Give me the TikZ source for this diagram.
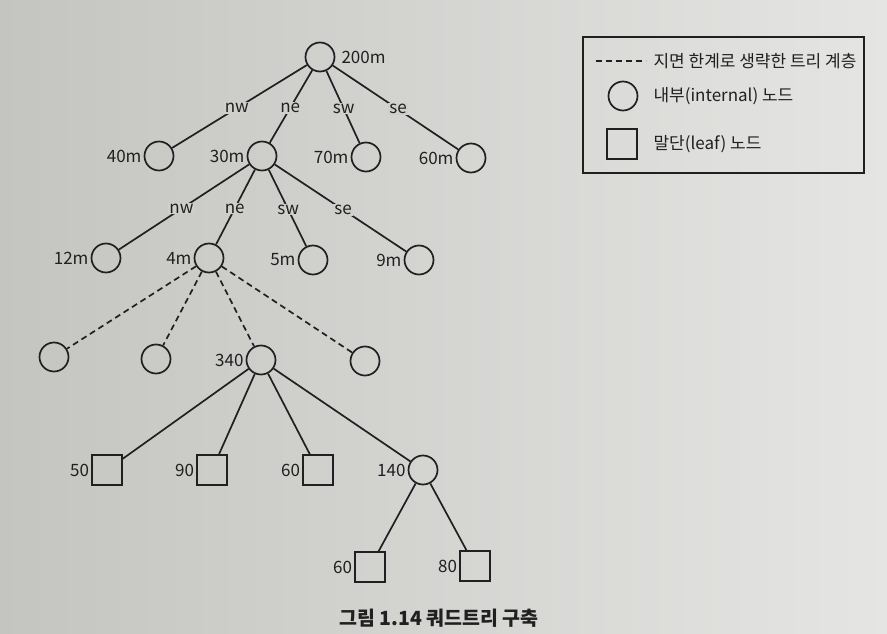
\documentclass[tikz,border=0pt]{standalone}
\usepackage{fontspec}
\setmainfont{Noto Sans CJK KR}
\usetikzlibrary{positioning}
\definecolor{paper}{RGB}{207,207,204}
\definecolor{paperdark}{RGB}{196,196,193}
\definecolor{paperlight}{RGB}{229,229,227}
\definecolor{ink}{RGB}{32,32,32}
\tikzset{
	x=1pt, y=-1pt, % one unit per pixel of the scan, y running down
	every node/.style={font=\fontsize{17}{20}\selectfont, text=ink}, % label font
	every label/.style={inner sep=2pt}, % labels sit close to their node
	inner/.style={circle, draw=ink, line width=1.7pt, minimum size=29pt, inner sep=0pt}, % internal node
	leaf/.style={rectangle, draw=ink, line width=1.7pt, minimum size=30pt, inner sep=0pt}, % leaf node
	branch/.style={draw=ink, line width=1.7pt}, % tree edge
	omitted/.style={branch, dash pattern=on 6pt off 4pt}, % omitted levels
	quad/.style={fill=paper, inner sep=1pt, pos=0.52}, % quadrant name on an edge
}

\begin{document}
\begin{tikzpicture}
			\fill[left color=paperdark, right color=paperlight] (0,0) rectangle (887,634);
			\useasboundingbox (0,0) rectangle (887,634);

			\node[inner, label={[label distance=4pt]right:200m}] (1) at (320,57) {};
			\node[inner, label=left:40m] (2) at (159,156) {};
			\node[inner, label=left:30m] (3) at (262,156) {};
			\node[inner, label=left:70m] (4) at (366,157) {};
			\node[inner, label=left:60m] (5) at (471,158) {};
			\node[inner, label=left:12m] (6) at (106,258) {};
			\node[inner, label=left:4m] (7) at (209,258) {};
			\node[inner, label=left:5m] (8) at (313,260) {};
			\node[inner, label=left:9m] (9) at (419,260) {};
			\node[inner] (10) at (54,357) {};
			\node[inner] (11) at (156,359) {};
			\node[inner, label=left:340] (12) at (261,360) {};
			\node[inner] (13) at (365,361) {};
			\node[leaf, label=left:50] (14) at (107,470) {};
			\node[leaf, label=left:90] (15) at (212,470) {};
			\node[leaf, label=left:60] (16) at (318,470) {};
			\node[inner, label=left:140] (17) at (423,470) {};
			\node[leaf, label=left:60] (18) at (370,567) {};
			\node[leaf, label=left:80] (19) at (475,566) {};

			\draw[branch] (1) edge node[quad]{nw} (2)
				  (1) edge node[quad]{ne} (3)
				  (1) edge node[quad]{sw} (4)
				  (1) edge node[quad]{se} (5)
				  (3) edge node[quad]{nw} (6)
				  (3) edge node[quad]{ne} (7)
				  (3) edge node[quad]{sw} (8)
				  (3) edge node[quad]{se} (9)
				  (12) edge (14)
				  (12) edge (15)
				  (12) edge (16)
				  (12) edge (17)
				  (17) edge (18)
				  (17) edge (19);
			\draw[omitted] (7) edge (10)
				  (7) edge (11)
				  (7) edge (12)
				  (7) edge (13);

			% legend
			\node[draw=ink, line width=1.3pt, minimum width=281pt, minimum height=136pt] (legend) at (723.5,105) {};
			\coordinate (d1) at (596,61);
			\coordinate (d2) at (646,61);
			\draw[omitted] (d1) -- (d2);
			\node[anchor=west] (t1) at (650,61) {지면 한계로 생략한 트리 계층};
			\node[inner] (c) at (623,96) {};
			\node[anchor=west] (t2) at (650,96) {내부(internal) 노드};
			\node[leaf] (s) at (622,144) {};
			\node[anchor=west] (t3) at (650,144) {말단(leaf) 노드};

			\node[font=\fontsize{19.5}{23}\selectfont\bfseries] (cap) at (439,618) {그림 1.14 쿼드트리 구축};
		\end{tikzpicture}
\end{document}
